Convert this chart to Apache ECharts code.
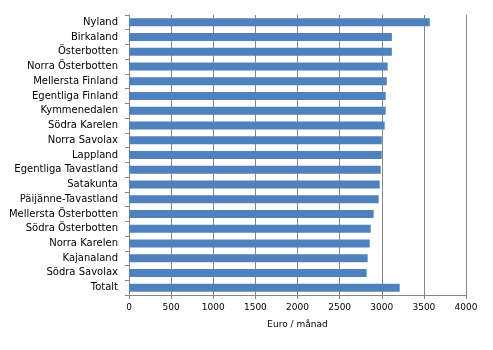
<!DOCTYPE html>
<html>
<head>
<meta charset="utf-8">
<style>
  html, body { margin: 0; padding: 0; background: #fff; }
  #chart { width: 493px; height: 350px; }
</style>
<script src="https://cdn.jsdelivr.net/npm/echarts@6/dist/echarts.min.js"></script>
</head>
<body>
<div id="chart"></div>
<script>
// Average monthly earnings by region (euro / month)
const regions = [
  'Nyland', 'Birkaland', 'Österbotten', 'Norra Österbotten', 'Mellersta Finland',
  'Egentliga Finland', 'Kymmenedalen', 'Södra Karelen', 'Norra Savolax', 'Lappland',
  'Egentliga Tavastland', 'Satakunta', 'Päijänne-Tavastland', 'Mellersta Österbotten',
  'Södra Österbotten', 'Norra Karelen', 'Kajanaland', 'Södra Savolax', 'Totalt'
];
const earnings = [
  3570, 3120, 3120, 3070, 3060,
  3047, 3047, 3035, 3000, 3000,
  2988, 2976, 2964, 2904,
  2869, 2857, 2833, 2821, 3213
];
const xTicks = { min: 0, max: 4000, interval: 500 };
const xTitle = 'Euro / månad';

const chart = echarts.init(document.getElementById('chart'));
const fontFamily = 'DejaVu Sans';
const axisGray = '#868686';

chart.setOption({
  animation: false,
  grid: { left: 129, right: 27, top: 15, bottom: 55, containLabel: false },
  xAxis: {
    type: 'value',
    min: xTicks.min,
    max: xTicks.max,
    interval: xTicks.interval,
    name: xTitle,
    nameLocation: 'middle',
    nameGap: 25,
    nameTextStyle: { fontFamily, fontSize: 9, color: '#000' },
    axisLine: { show: true, lineStyle: { color: axisGray, width: 1 } },
    axisTick: { show: true, length: 4, lineStyle: { color: axisGray } },
    axisLabel: { fontFamily, fontSize: 9, color: '#000', margin: 8, formatter: v => String(v) },
    splitLine: { show: true, lineStyle: { color: axisGray, width: 1 } }
  },
  yAxis: {
    type: 'category',
    data: regions,
    inverse: true,
    axisLine: { show: true, lineStyle: { color: axisGray, width: 1 } },
    axisTick: { show: true, length: 4, alignWithLabel: false, lineStyle: { color: axisGray } },
    axisLabel: { fontFamily, fontSize: 10, color: '#000', margin: 11 },
    splitLine: { show: false }
  },
  series: [{
    type: 'bar',
    data: earnings,
    barWidth: 8,
    itemStyle: { color: '#4F81BD' }
  }]
});
</script>
</body>
</html>
